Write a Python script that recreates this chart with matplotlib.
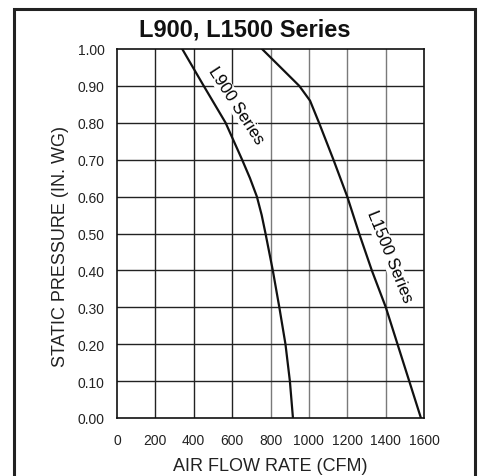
import matplotlib
matplotlib.use("Agg")
import matplotlib.pyplot as plt
from matplotlib.patches import Rectangle

plt.rcParams["font.family"] = ["Liberation Sans", "DejaVu Sans"]

# static pressure (in. wg) vs air flow (cfm)
L900_PRESSURE = [1.00, 0.90, 0.80, 0.70, 0.65, 0.60, 0.55, 0.50, 0.40, 0.30, 0.20, 0.10, 0.00]
L900_CFM = [340, 452, 566, 652, 693, 729, 754, 774, 812, 846, 878, 901, 917]

L1500_PRESSURE = [1.00, 0.90, 0.86, 0.80, 0.70, 0.60, 0.50, 0.40, 0.30, 0.20, 0.10, 0.00]
L1500_CFM = [756, 950, 1006, 1053, 1128, 1200, 1262, 1328, 1401, 1462, 1523, 1584]

X_TICKS = [0, 200, 400, 600, 800, 1000, 1200, 1400, 1600]
Y_TICKS = [0.0, 0.1, 0.2, 0.3, 0.4, 0.5, 0.6, 0.7, 0.8, 0.9, 1.0]


def main():
    W, H = 481, 477
    fig = plt.figure(figsize=(W / 100, H / 100), dpi=100)
    fig.patch.set_facecolor("white")

    # outer frame
    fig.patches.append(Rectangle((14.5 / W, -0.05), 461 / W, 1.05 - 10 / H,
                                 transform=fig.transFigure, fill=False,
                                 ec="#222222", lw=2.2))

    ax = fig.add_axes([117 / W, 58 / H, 307 / W, 369 / H])
    ax.set_xlim(0, 1600)
    ax.set_ylim(0, 1.0)

    # grid
    for x in X_TICKS[1:-1]:
        col = "#222222" if x < 800 else "#7a7a7a"
        ax.axvline(x, color=col, lw=1.0, zorder=1)
    for y in Y_TICKS[1:-1]:
        ax.axhline(y, color="#222222", lw=1.0, zorder=1)

    for s in ax.spines.values():
        s.set_color("#111111")
        s.set_linewidth(1.2)

    ax.plot(L900_CFM, L900_PRESSURE, color="#111111", lw=1.6, zorder=3,
            solid_joinstyle="round")
    ax.plot(L1500_CFM, L1500_PRESSURE, color="#111111", lw=1.6, zorder=3,
            solid_joinstyle="round")

    box = dict(boxstyle="square,pad=0.05", fc="white", ec="none")
    ax.text(618, 0.850, "L900 Series", rotation=-57, ha="center", va="center",
            fontsize=12, bbox=box, zorder=2, rotation_mode="anchor")
    ax.text(1418, 0.440, "L1500 Series", rotation=-68, ha="center", va="center",
            fontsize=12, bbox=box, zorder=2, rotation_mode="anchor")

    ax.set_xticks(X_TICKS)
    ax.set_xticklabels([str(x) for x in X_TICKS])
    ax.set_yticks(Y_TICKS)
    ax.set_yticklabels([f"{y:.2f}" for y in Y_TICKS])
    ax.tick_params(length=0, labelsize=10, colors="#222222")
    ax.tick_params(axis="x", pad=11)
    ax.tick_params(axis="y", pad=9)

    ax.set_xlabel("AIR FLOW RATE (CFM)", fontsize=13, color="#222222", labelpad=7)
    ax.set_ylabel("STATIC PRESSURE (IN. WG)", fontsize=13, color="#222222")
    ax.yaxis.set_label_coords(-0.156, 0.467)

    fig.text(244.5 / W, 1 - 30 / H, "L900, L1500 Series", ha="center", va="center",
             fontsize=17, fontweight="bold", color="#111111")

    fig.savefig("out.png", dpi=100)


if __name__ == "__main__":
    main()
